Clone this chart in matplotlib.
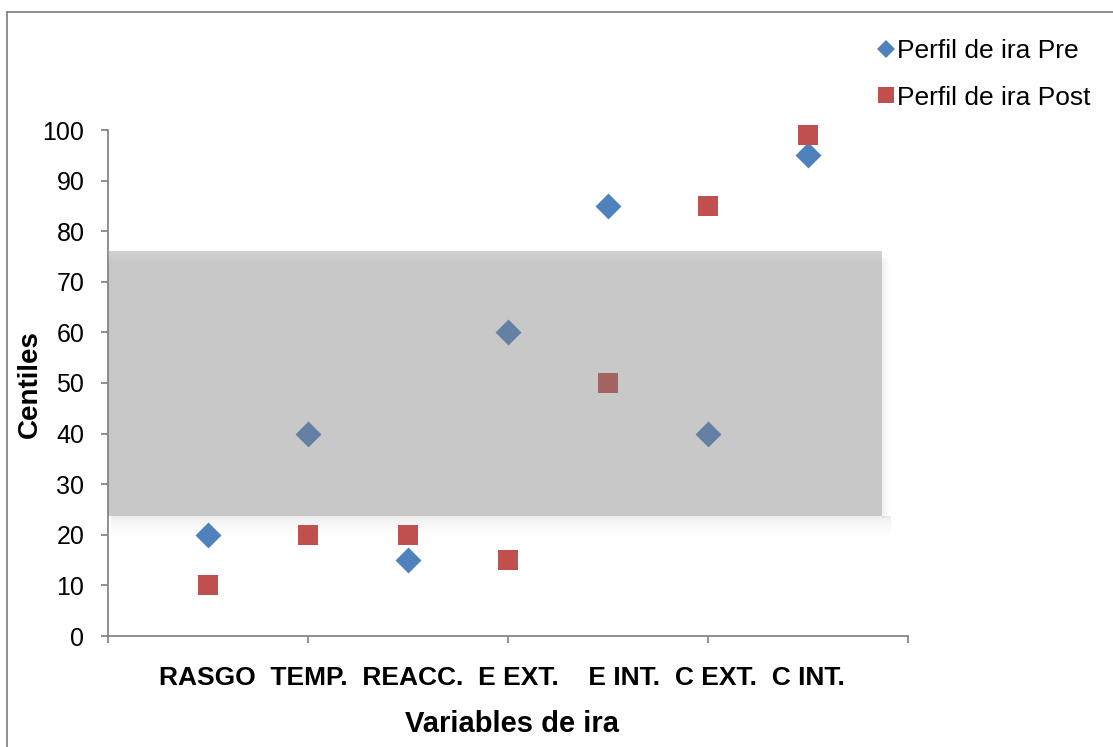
import matplotlib
matplotlib.use("Agg")
import matplotlib.pyplot as plt
from matplotlib.lines import Line2D
from matplotlib.patches import Rectangle

categories = ["RASGO", "TEMP.", "REACC.", "E EXT.", "E INT.", "C EXT.", "C INT."]
pre_values = [20, 40, 15, 60, 85, 40, 95]
post_values = [10, 20, 20, 15, 50, 85, 99]
series_names = ["Perfil de ira Pre", "Perfil de ira Post"]
band_range = [23.7, 76.1]
y_ticks = [0, 10, 20, 30, 40, 50, 60, 70, 80, 90, 100]
x_ticks = [0, 2, 4, 6, 8]

plt.rcParams['font.family'] = ['Liberation Sans', 'DejaVu Sans']

BLUE = "#4f81bd"
RED = "#c0504d"
AXC = "#868686"

fig = plt.figure(figsize=(11.13, 7.47), dpi=100)
ax = fig.add_axes([108/1113, 1-636/747, 800/1113, 506/747])

xs = list(range(1, len(categories) + 1))
ax.scatter(xs, pre_values, marker='D', s=13.2**2, color=BLUE, linewidths=0,
           zorder=3, clip_on=False)
ax.scatter(xs, post_values, marker='s', s=14.4**2, color=RED, linewidths=0,
           zorder=3, clip_on=False)

# gray band (overlay with transparency) + soft shadow
x0, x1 = 0, 7.74
b0, b1 = band_range
n = 10
for i in range(n):
    d = i * 0.4
    ax.add_patch(Rectangle((x0 + 0.03, b0 - d - 0.4), x1 - x0 + 0.06, 0.4,
                           facecolor='#000000', alpha=0.07 * (1 - i / n) ** 1.5,
                           linewidth=0, zorder=2))
for i in range(6):
    ax.add_patch(Rectangle((x1 + i * 0.015, b0 - 0.4), 0.015, (b1 - b0) - 1.0,
                           facecolor='#000000', alpha=0.05 * (1 - i / 6) ** 1.5,
                           linewidth=0, zorder=2))
ax.add_patch(Rectangle((x0, b0), x1 - x0, b1 - b0, facecolor='#808080',
                       alpha=0.43, linewidth=0, zorder=4))
for i in range(5):
    ax.add_patch(Rectangle((x0, b1 - (i + 1) * 0.45), x1 - x0, 0.45,
                           facecolor='white', alpha=0.16 * (1 - i / 5),
                           linewidth=0, zorder=5))

ax.set_xlim(0, 8)
ax.set_ylim(0, 100)
ax.set_xticks(x_ticks)
ax.set_xticklabels([])
ax.set_yticks(y_ticks)
ax.set_yticklabels([str(v) for v in y_ticks], fontsize=18)
for s in ['top', 'right']:
    ax.spines[s].set_visible(False)
for s in ['left', 'bottom']:
    ax.spines[s].set_color(AXC)
    ax.spines[s].set_linewidth(1.3)
ax.tick_params(axis='both', direction='out', length=5, width=1.3, color=AXC, pad=10)
ax.tick_params(axis='y', pad=12)

gaps = [2, 2, 2, 4, 2, 2]
label_str = categories[0]
for g, c in zip(gaps, categories[1:]):
    label_str += " " * g + c
fig.text(502/1113, 1-678/747, label_str, fontsize=19, fontweight='bold',
         ha='center', va='center')
fig.text(512/1113, 1-724/747, "Variables de ira", fontsize=21, fontweight='bold',
         ha='center', va='center')
fig.text(30/1113, 1-384/747, "Centiles", fontsize=20, fontweight='bold',
         ha='center', va='center', rotation=90)

handles = [Line2D([], [], marker='D', color=BLUE, linestyle='none', markersize=9.5,
                  markeredgewidth=0),
           Line2D([], [], marker='s', color=RED, linestyle='none', markersize=11.5,
                  markeredgewidth=0)]
fig.legend(handles, series_names, loc='upper left', bbox_to_anchor=(878/1113, 1-39/747),
           frameon=False, fontsize=19, handlelength=0.6, handletextpad=0.12,
           labelspacing=0.86, borderpad=0, borderaxespad=0)

# outer frame
fig.add_artist(Line2D([7/1113, 7/1113], [0, 1-12/747], color=AXC, linewidth=1.3,
                      transform=fig.transFigure))
fig.add_artist(Line2D([7/1113, 1], [1-12/747, 1-12/747], color=AXC, linewidth=1.3,
                      transform=fig.transFigure))

fig.savefig("out.png", dpi=100)
